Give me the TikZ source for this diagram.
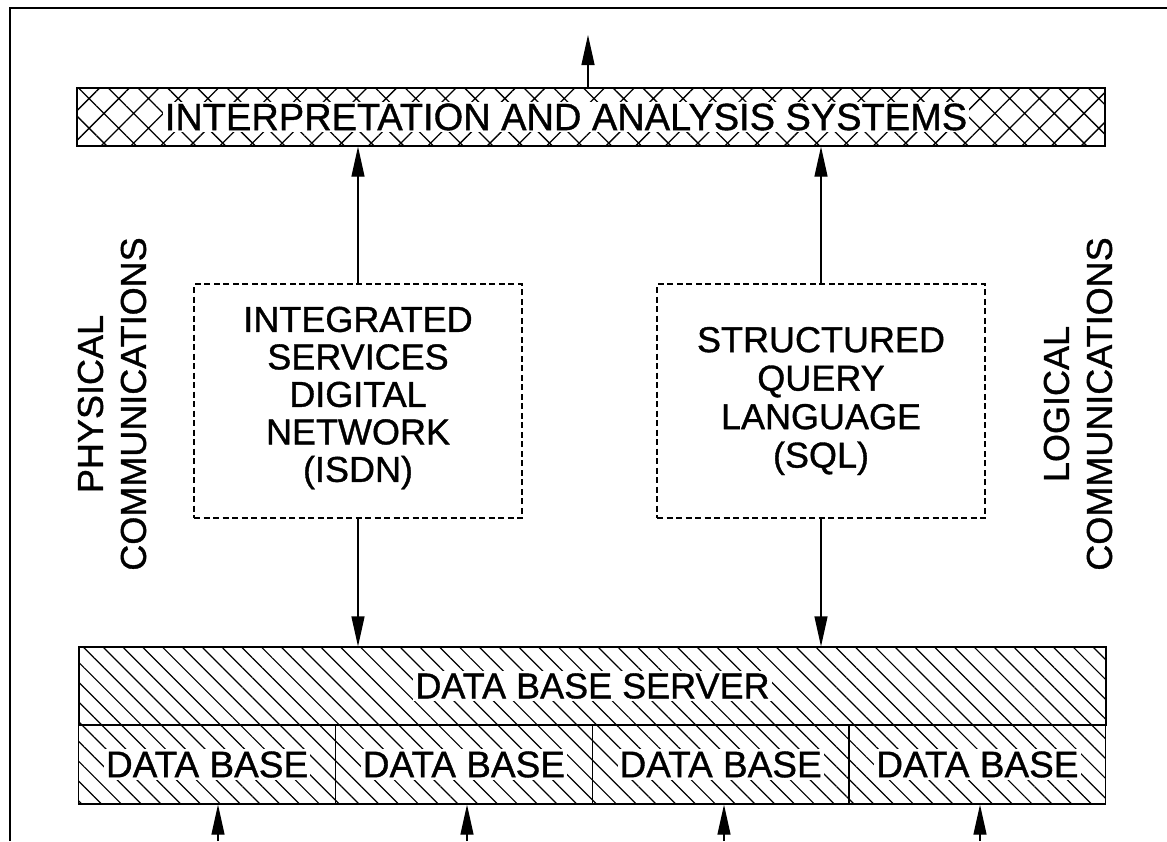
\documentclass[tikz,border=0pt]{standalone}
\usepackage{fontspec}
\setmainfont{Liberation Sans}[FakeBold=1.0]
\usetikzlibrary{patterns.meta,arrows.meta}
\begin{document}
\begin{tikzpicture}[x=1pt,y=-1pt,
  txt/.style={font=\fontsize{36}{37.5}\selectfont, align=center, inner sep=0pt},
  sidetxt/.style={font=\fontsize{36}{43}\selectfont, align=center, inner sep=0pt, rotate=90},
  crossbox/.style={draw, line width=1.5pt, minimum width=1028pt, minimum height=58pt, inner sep=0pt,
     pattern={Hatch[angle=45,distance=21pt,line width=1.3pt]}},
  hatchbox/.style={draw, line width=1.3pt, inner sep=0pt,
     pattern={Lines[angle=-45,distance=14pt,line width=1.2pt]}},
  dashbox/.style={draw, dash pattern=on 6pt off 3.5pt, line width=1.4pt, inner sep=0pt,
     minimum width=328pt, minimum height=234pt},
  clear/.style={fill=white, inner sep=2pt},
  arr/.style={line width=1.2pt, -{Triangle[length=30pt,width=13pt]}}
]
\useasboundingbox (0,0) rectangle (1167,841);
% frame
\draw[line width=1.8pt] (10,841) -- (10,8) -- (1167,8);

% top box
\node[crossbox] (ias) at (591,117) {};
\node[txt, clear, font=\fontsize{38}{40}\selectfont] (iastxt) at (566,117) {INTERPRETATION AND ANALYSIS SYSTEMS};

% middle dashed boxes
\node[dashbox] (isdn) at (358,401) {};
\node[txt] (isdntxt) at (358,398) {INTEGRATED\\SERVICES\\DIGITAL\\NETWORK\\(ISDN)};
\node[dashbox] (sql) at (821,401) {};
\node[txt, font=\fontsize{36}{38.5}\selectfont] (sqltxt) at (821,401) {STRUCTURED\\QUERY\\LANGUAGE\\(SQL)};

% side labels
\node[sidetxt] (phys) at (112,404) {PHYSICAL\\COMMUNICATIONS};
\node[sidetxt] (logic) at (1078,404) {LOGICAL\\COMMUNICATIONS};

% data base server
\node[hatchbox, minimum width=1027pt, minimum height=78pt] (dbs) at (592.5,686) {};
\node[txt, clear] (dbstxt) at (592.5,686) {DATA BASE SERVER};
\foreach \i/\cx in {1/207.1, 2/463.9, 3/720.6, 4/977.4} {
  \node[hatchbox, minimum width=256.75pt, minimum height=79pt] (db\i) at (\cx,764.5) {};
  \node[txt, clear, font=\fontsize{37}{38}\selectfont] (dbt\i) at (db\i.center) {DATA BASE};
}

% arrows
\coordinate (topend) at (588,35);
\draw[arr] (ias.north -| topend) -- (topend);
\draw[arr] (isdn.north) -- (isdn.north |- ias.south);
\draw[arr] (sql.north) -- (sql.north |- ias.south);
\draw[arr] (isdn.south) -- (isdn.south |- dbs.north);
\draw[arr] (sql.south) -- (sql.south |- dbs.north);
\coordinate (b1) at (218,841);
\coordinate (b2) at (467,841);
\coordinate (b3) at (724,841);
\coordinate (b4) at (980,841);
\draw[arr] (b1) -- (b1 |- db1.south);
\draw[arr] (b2) -- (b2 |- db2.south);
\draw[arr] (b3) -- (b3 |- db3.south);
\draw[arr] (b4) -- (b4 |- db4.south);
\end{tikzpicture}
\end{document}
